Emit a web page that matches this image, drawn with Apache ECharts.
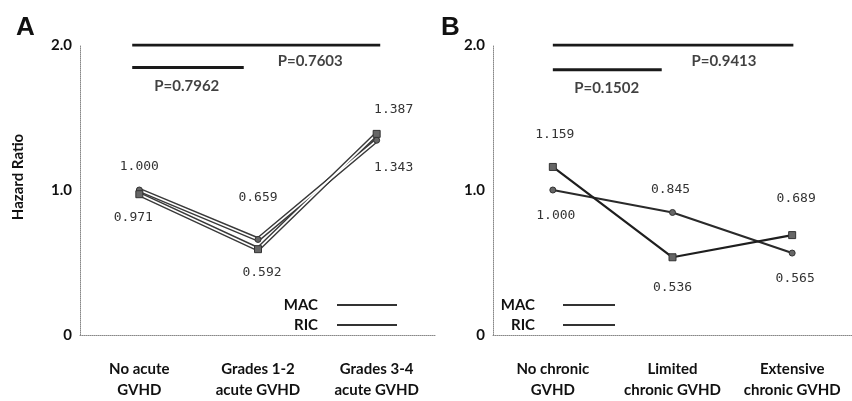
<!DOCTYPE html>
<html>
<head>
<meta charset="utf-8">
<script src="https://cdn.jsdelivr.net/npm/echarts@6/dist/echarts.min.js"></script>
<style>
html,body{margin:0;padding:0;background:#fff;overflow:hidden;}
#c{width:852px;height:401px;}
</style>
</head>
<body>
<div id="c"></div>
<script>
// ---- data ----
const categoriesA = ['No acute\nGVHD', 'Grades 1-2\nacute GVHD', 'Grades 3-4\nacute GVHD'];
const categoriesB = ['No chronic\nGVHD', 'Limited\nchronic GVHD', 'Extensive\nchronic GVHD'];
const macA = [1.000, 0.659, 1.343];
const ricA = [0.971, 0.592, 1.387];
const macB = [1.000, 0.845, 0.565];
const ricB = [1.159, 0.536, 0.689];
const yTickLabels = {0: '0', 1: '1.0', 2: '2.0'};
// p-value brackets: [from category pos, to category pos, y]
const pBarsA = [[-0.06, 2.03, 2.0], [-0.06, 0.88, 1.845]];
const pBarsB = [[0.0, 2.01, 2.0], [0.0, 0.91, 1.83]];
// p-value texts: [text, category pos, y]
const pTextsA = [['P=0.7603', 1.44, 1.89], ['P=0.7962', 0.40, 1.715]];
const pTextsB = [['P=0.9413', 1.43, 1.89], ['P=0.1502', 0.45, 1.705]];

// ---- label styling (offsets of value labels relative to points) ----
const offMacA = [[0, -23], [0, -42], [17, 27]];
const offRicA = [[-6, 23], [4, 23], [17, -24]];
const offMacB = [[3, 26], [-2, -23], [3, 26]];
const offRicB = [[2, -32], [0, 30], [4, -36]];

const catFont = {fontFamily: 'Lato', fontWeight: 'bold', fontSize: 15, color: '#111'};
const valFont = {fontFamily: 'DejaVu Sans Mono', fontSize: 13, color: '#333'};

function withLabels(vals, offs) {
  return vals.map((v, i) => ({value: v, label: {offset: offs[i]}}));
}

const chart = echarts.init(document.getElementById('c'));

function xCat(gi, cats) {
  return {
    type: 'category', gridIndex: gi, data: cats, boundaryGap: true,
    axisLine: {onZero: false, lineStyle: {color: '#888', type: 'dotted', width: 1}},
    axisTick: {show: false},
    axisLabel: Object.assign({margin: 24, lineHeight: 21, interval: 0}, catFont)
  };
}
function xVal(gi) {
  return {type: 'value', gridIndex: gi, min: -0.5, max: 2.5, show: false};
}
function yAx(gi, withName) {
  const o = {
    type: 'value', gridIndex: gi, min: 0, max: 2, interval: 1,
    axisLine: {show: true, onZero: false, lineStyle: {color: '#888', type: 'dotted', width: 1}},
    axisTick: {show: false},
    splitLine: {show: false},
    axisLabel: {margin: 8, formatter: v => yTickLabels[v], fontFamily: 'Lato', fontWeight: 'bold', fontSize: 15, color: '#111'}
  };
  if (withName) {
    o.name = 'Hazard Ratio';
    o.nameLocation = 'middle';
    o.nameRotate = 90;
    o.nameGap = 54;
    o.nameTextStyle = {fontFamily: 'Lato', fontWeight: 'bold', fontSize: 15, color: '#111', padding: [0, 0, 0, 26]};
  }
  return o;
}

function darkLine(name, vals, xi, yi, width, color) {
  return {
    name: name, type: 'line', xAxisIndex: xi, yAxisIndex: yi, data: vals,
    symbol: 'none', silent: true, animation: false,
    lineStyle: {color: color, width: width}
  };
}
function markedLine(name, vals, offs, xi, yi, symbol, lineColor, lineWidth) {
  return {
    name: name, type: 'line', xAxisIndex: xi, yAxisIndex: yi,
    data: withLabels(vals, offs),
    symbol: symbol, symbolSize: symbol === 'rect' ? 7 : 6, showSymbol: true,
    itemStyle: {color: '#666', borderColor: '#333', borderWidth: 1},
    lineStyle: {color: lineColor, width: lineWidth},
    label: Object.assign({show: true, position: 'inside', formatter: p => p.value.toFixed(3)}, valFont),
    animation: false, silent: true
  };
}
function pBarSeries(bars, xi, yi) {
  return bars.map(b => ({
    type: 'line', xAxisIndex: xi, yAxisIndex: yi, data: [[b[0], b[2]], [b[1], b[2]]],
    symbol: 'none', silent: true, animation: false,
    lineStyle: {color: '#1a1a1a', width: 3}
  }));
}
function pTextSeries(texts, xi, yi) {
  return {
    type: 'scatter', xAxisIndex: xi, yAxisIndex: yi, symbolSize: 0, silent: true, animation: false,
    data: texts.map(t => ({value: [t[1], t[2]], name: t[0]})),
    label: {show: true, position: 'inside', formatter: p => p.name,
      fontFamily: 'Lato', fontWeight: 'bold', fontSize: 15, color: '#111'}
  };
}

const legendBase = {
  orient: 'vertical', align: 'right', top: 296, padding: 0, itemGap: 2,
  itemHeight: 2, icon: 'rect', selectedMode: false,
  itemStyle: {color: '#333', borderWidth: 0},
  data: ['MAC', 'RIC']
};

const option = {
  backgroundColor: '#fff',
  animation: false,
  grid: [
    {left: 80, top: 45, width: 356, height: 298},
    {left: 493, top: 45, width: 370, height: 297}
  ],
  xAxis: [xCat(0, categoriesA), xVal(0), xCat(1, categoriesB), xVal(1)],
  yAxis: [yAx(0, true), yAx(1, false)],
  legend: [
    Object.assign({}, legendBase, {right: 455, itemWidth: 60,
      textStyle: {fontFamily: 'Lato', fontWeight: 'bold', fontSize: 15, color: '#111', lineHeight: 18, padding: [0, 14, 0, 0]}}),
    Object.assign({}, legendBase, {right: 237, itemWidth: 52,
      textStyle: {fontFamily: 'Lato', fontWeight: 'bold', fontSize: 15, color: '#111', lineHeight: 18, padding: [0, 23, 0, 0]}})
  ],
  graphic: [
    {type: 'text', left: 16, top: 15, style: {text: 'A', font: 'bold 26px "Liberation Sans"', fill: '#111'}},
    {type: 'text', left: 441, top: 15, style: {text: 'B', font: 'bold 26px "Liberation Sans"', fill: '#111'}}
  ],
  series: [
    // panel A: outlined (double) lines
    darkLine('MAC', macA, 0, 0, 4.5, '#3a3a3a'),
    darkLine('RIC', ricA, 0, 0, 4.5, '#3a3a3a'),
    markedLine('MAC', macA, offMacA, 0, 0, 'circle', '#ffffff', 1.6),
    markedLine('RIC', ricA, offRicA, 0, 0, 'rect', '#ffffff', 1.6),
    ...pBarSeries(pBarsA, 1, 0),
    pTextSeries(pTextsA, 1, 0),
    // panel B: solid dark lines
    markedLine('MAC', macB, offMacB, 2, 1, 'circle', '#2a2a2a', 2.2),
    markedLine('RIC', ricB, offRicB, 2, 1, 'rect', '#1e1e1e', 2.2),
    ...pBarSeries(pBarsB, 3, 1),
    pTextSeries(pTextsB, 3, 1)
  ]
};
chart.setOption(option);
</script>
</body>
</html>
